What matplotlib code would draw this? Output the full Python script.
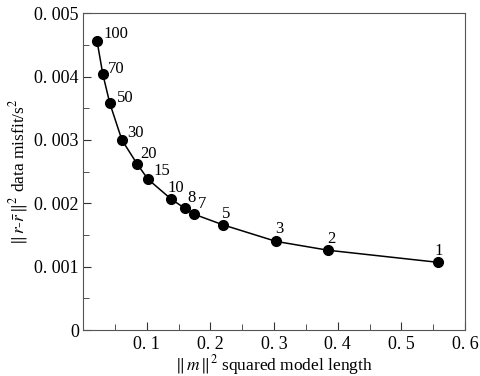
import matplotlib
matplotlib.use('Agg')
import matplotlib.pyplot as plt
from matplotlib.ticker import MultipleLocator

plt.rcParams['font.family'] = 'Liberation Serif'
plt.rcParams['mathtext.fontset'] = 'stix'

# regularisation parameters and their L-curve points
labels = ['100', '70', '50', '30', '20', '15', '10', '8', '7', '5', '3', '2', '1']
model_len = [0.022, 0.031, 0.042, 0.061, 0.085, 0.102, 0.138, 0.160, 0.174, 0.220, 0.303, 0.385, 0.557]
misfit = [0.00456, 0.00404, 0.00358, 0.00300, 0.00262, 0.00238, 0.00207, 0.00192, 0.00183,
          0.00166, 0.00140, 0.00126, 0.00107]

xticks = [0.1, 0.2, 0.3, 0.4, 0.5, 0.6]
xticklabels = ['0. 1', '0. 2', '0. 3', '0. 4', '0. 5', '0. 6']
yticks = [0, 0.001, 0.002, 0.003, 0.004, 0.005]
yticklabels = ['0', '0. 001', '0. 002', '0. 003', '0. 004', '0. 005']

# label offsets from each point, in pixels (dx to left edge, dy to baseline)
label_offsets = [(6, 3), (5, 1), (7, 1), (5, 3), (3, 6), (5, 4), (-3, 7),
                 (2, 6), (4, 6), (-1, 7), (-1, 8), (-1, 7), (-3, 7)]

fig = plt.figure(figsize=(4.8, 3.76), dpi=100)
ax = fig.add_axes([0.173, 0.122, 0.796, 0.843])

ax.plot(model_len, misfit, '-', color='black', linewidth=1.1)
ax.plot(model_len, misfit, 'o', color='black', markersize=7)

for lab, x, y, (dx, dy) in zip(labels, model_len, misfit, label_offsets):
    ax.annotate(lab, (x, y), xytext=(dx * 0.72, dy * 0.72), textcoords='offset points',
                ha='left', va='baseline', fontsize=12)

ax.set_xlim(0, 0.6)
ax.set_ylim(0, 0.005)
ax.set_xticks(xticks)
ax.set_xticklabels(xticklabels)
ax.set_yticks(yticks)
ax.set_yticklabels(yticklabels)
ax.xaxis.set_minor_locator(MultipleLocator(0.05))
ax.yaxis.set_minor_locator(MultipleLocator(0.0005))
ax.tick_params(which='both', direction='in', labelsize=13, colors='#333333')
ax.tick_params(which='major', length=6)
ax.tick_params(which='minor', length=4)
ax.tick_params(axis='x', labelcolor='black', pad=4)
ax.tick_params(axis='y', labelcolor='black', pad=3)
for s in ax.spines.values():
    s.set_color('#555555')

ax.set_xlabel(r'$\Vert\, m\, \Vert^2$ squared model length', fontsize=12.5, labelpad=0)
ax.set_ylabel(r'$\Vert\, r$-$\bar{r}\, \Vert^2$ data misfit/s$^2$', fontsize=12.5, labelpad=3)

fig.savefig('out.png', dpi=100)
